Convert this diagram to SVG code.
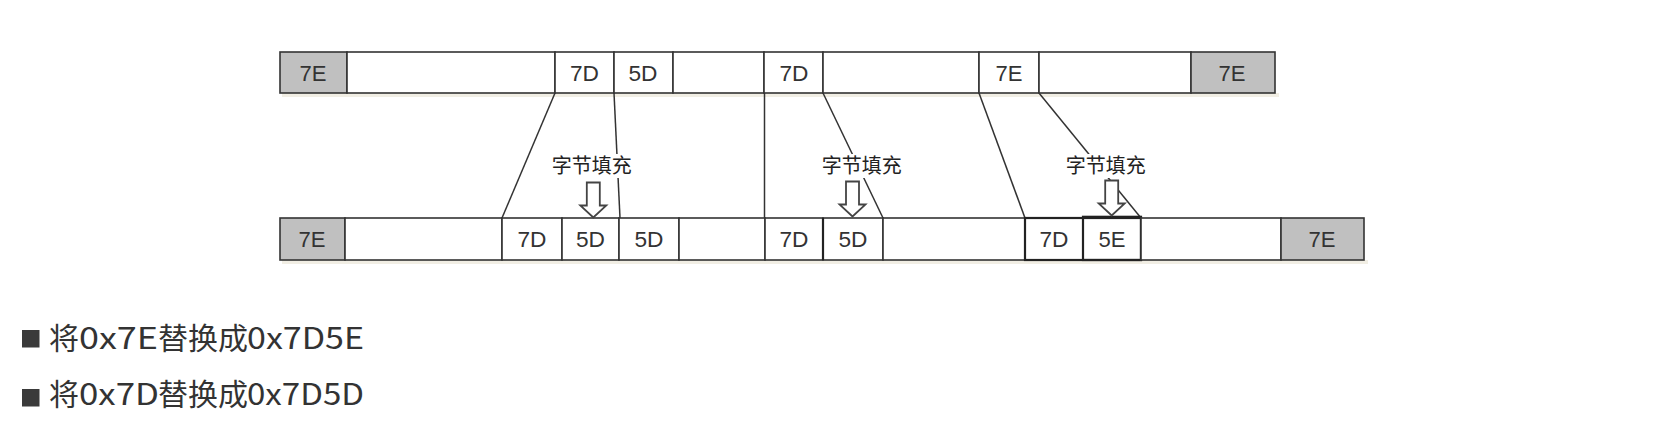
<svg xmlns="http://www.w3.org/2000/svg" width="1669" height="447" viewBox="0 0 1669 447">
<style>
.cell{fill:#fff;stroke:#333;stroke-width:1.6}
.flag{fill:#c0c0c0;stroke:#333;stroke-width:1.6}
.bold{fill:none;stroke:#222;stroke-width:2.2}
.shadow{fill:#f1eee4}
.ct{font-family:"Liberation Sans",Arial,sans-serif;font-size:21.5px;fill:#333;text-anchor:middle}
.lbl{font-family:"Noto Sans CJK SC",sans-serif;font-size:20px;fill:#222;text-anchor:middle}
.lblbg{fill:#fff}
.conn{stroke:#333;stroke-width:1.5;fill:none}
.arrow{fill:#fff;stroke:#444;stroke-width:1.8;stroke-linejoin:miter}
.note{font-family:"Noto Sans CJK SC","Open Sans",sans-serif;font-size:30px;fill:#333}
.bullet{fill:#3a3a3a}
</style>
<defs>
<path id="downArrow" class="arrow" d="M-6.5,0 H6.5 V23 H13 L0,35 L-13,23 H-6.5 Z"/>
</defs>
<rect width="1669" height="447" fill="#fff"/>
<rect class="shadow" x="282" y="93" width="997" height="4"/>
<rect class="shadow" x="282" y="260" width="1086" height="4"/>

<g id="connectors">
<line class="conn" x1="555" y1="93" x2="502" y2="218"/>
<line class="conn" x1="614" y1="93" x2="620" y2="218"/>
<line class="conn" x1="764.5" y1="93" x2="764.5" y2="218"/>
<line class="conn" x1="823" y1="93" x2="883" y2="218"/>
<line class="conn" x1="979" y1="93" x2="1025" y2="218"/>
<line class="conn" x1="1039" y1="93" x2="1141" y2="218"/>
</g>

<g id="top-frame">
<g id="t-flag1"><rect class="flag" x="280" y="52" width="67" height="41"/><text class="ct" x="313" y="80.5" textLength="27" lengthAdjust="spacingAndGlyphs">7E</text></g>
<g id="t-data1"><rect class="cell" x="347" y="52" width="208" height="41"/></g>
<g id="t-7d1"><rect class="cell" x="555" y="52" width="59" height="41"/><text class="ct" x="584.5" y="80.5" textLength="29" lengthAdjust="spacingAndGlyphs">7D</text></g>
<g id="t-5d1"><rect class="cell" x="614" y="52" width="59" height="41"/><text class="ct" x="643" y="80.5" textLength="29" lengthAdjust="spacingAndGlyphs">5D</text></g>
<g id="t-data2"><rect class="cell" x="673" y="52" width="91" height="41"/></g>
<g id="t-7d2"><rect class="cell" x="764" y="52" width="59" height="41"/><text class="ct" x="794" y="80.5" textLength="29" lengthAdjust="spacingAndGlyphs">7D</text></g>
<g id="t-data3"><rect class="cell" x="823" y="52" width="156" height="41"/></g>
<g id="t-7e"><rect class="cell" x="979" y="52" width="60" height="41"/><text class="ct" x="1009" y="80.5" textLength="27" lengthAdjust="spacingAndGlyphs">7E</text></g>
<g id="t-data4"><rect class="cell" x="1039" y="52" width="152" height="41"/></g>
<g id="t-flag2"><rect class="flag" x="1191" y="52" width="84" height="41"/><text class="ct" x="1232" y="80.5" textLength="27" lengthAdjust="spacingAndGlyphs">7E</text></g>
</g>

<g id="bottom-frame">
<g id="b-flag1"><rect class="flag" x="280" y="218" width="65" height="42"/><text class="ct" x="312" y="247" textLength="27" lengthAdjust="spacingAndGlyphs">7E</text></g>
<g id="b-data1"><rect class="cell" x="345" y="218" width="157" height="42"/></g>
<g id="b-7d1"><rect class="cell" x="502" y="218" width="60" height="42"/><text class="ct" x="532" y="247" textLength="29" lengthAdjust="spacingAndGlyphs">7D</text></g>
<g id="b-5d1"><rect class="cell" x="562" y="218" width="57" height="42"/><text class="ct" x="590.5" y="247" textLength="29" lengthAdjust="spacingAndGlyphs">5D</text></g>
<g id="b-5d2"><rect class="cell" x="619" y="218" width="60" height="42"/><text class="ct" x="649" y="247" textLength="29" lengthAdjust="spacingAndGlyphs">5D</text></g>
<g id="b-data2"><rect class="cell" x="679" y="218" width="86" height="42"/></g>
<g id="b-7d2"><rect class="cell" x="765" y="218" width="58" height="42"/><text class="ct" x="794" y="247" textLength="29" lengthAdjust="spacingAndGlyphs">7D</text></g>
<g id="b-5d3"><rect class="cell" x="823" y="218" width="60" height="42"/><line class="bold" x1="823" y1="218" x2="823" y2="260"/><text class="ct" x="853" y="247" textLength="29" lengthAdjust="spacingAndGlyphs">5D</text></g>
<g id="b-data3"><rect class="cell" x="883" y="218" width="142" height="42"/></g>
<g id="b-7d3"><rect class="cell" x="1025" y="218" width="58" height="42"/><text class="ct" x="1054" y="247" textLength="29" lengthAdjust="spacingAndGlyphs">7D</text></g>
<g id="b-5e"><rect class="cell" x="1083" y="218" width="58" height="42"/><rect class="bold" x="1083" y="216.8" width="58" height="43.2"/><text class="ct" x="1112" y="247" textLength="27" lengthAdjust="spacingAndGlyphs">5E</text></g>
<rect class="bold" x="1025" y="218" width="116" height="42"/>
<g id="b-data4"><rect class="cell" x="1141" y="218" width="140" height="42"/></g>
<g id="b-flag2"><rect class="flag" x="1281" y="218" width="83" height="42"/><text class="ct" x="1322" y="247" textLength="27" lengthAdjust="spacingAndGlyphs">7E</text></g>
</g>

<g id="stuff1">
<rect class="lblbg" x="550" y="154" width="84" height="24"/>
<text class="lbl" x="591.7" y="173">字节填充</text>
<use href="#downArrow" x="593.3" y="182.5"/>
</g>
<g id="stuff2">
<rect class="lblbg" x="820" y="154" width="84" height="24"/>
<text class="lbl" x="861.7" y="173">字节填充</text>
<use href="#downArrow" x="852.5" y="181.5"/>
</g>
<g id="stuff3">
<rect class="lblbg" x="1064" y="154" width="84" height="24"/>
<text class="lbl" x="1105.8" y="173">字节填充</text>
<use href="#downArrow" x="1111.7" y="180.5"/>
</g>

<g id="notes">
<rect class="bullet" x="22" y="330" width="17.5" height="17.5"/>
<text class="note" y="349"><tspan x="49">将</tspan><tspan x="79" textLength="79" lengthAdjust="spacingAndGlyphs">0x7E</tspan><tspan x="158">替换成</tspan><tspan x="247" textLength="117" lengthAdjust="spacingAndGlyphs">0x7D5E</tspan></text>
<rect class="bullet" x="22" y="389" width="17.5" height="17.5"/>
<text class="note" y="405"><tspan x="49">将</tspan><tspan x="79" textLength="80" lengthAdjust="spacingAndGlyphs">0x7D</tspan><tspan x="158">替换成</tspan><tspan x="247" textLength="117" lengthAdjust="spacingAndGlyphs">0x7D5D</tspan></text>
</g>
</svg>
